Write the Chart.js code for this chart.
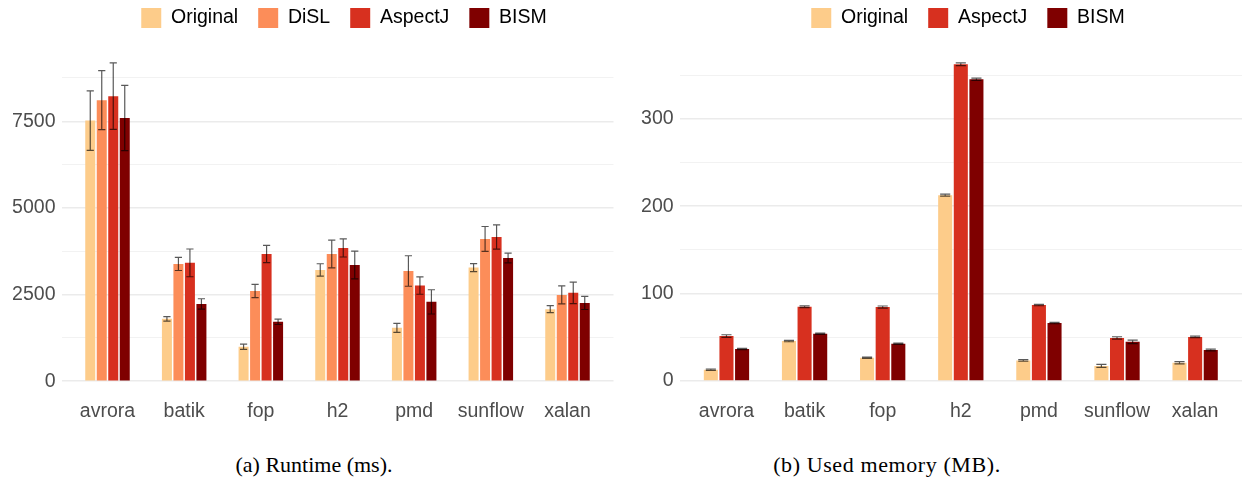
<!DOCTYPE html>
<html><head><meta charset="utf-8">
<script src="https://cdn.jsdelivr.net/npm/chart.js@4.4.0/dist/chart.umd.min.js"></script>
<style>
html,body{margin:0;padding:0;background:#fff;width:1242px;height:481px;overflow:hidden;position:relative}
canvas{position:absolute;top:0}
#c1{left:0}
#c2{left:620px}
.cap{position:absolute;font-family:'Liberation Serif','Times New Roman',serif;font-size:22px;color:#000;white-space:nowrap;transform:translateX(-50%);line-height:24px;top:453px}
</style></head><body>
<canvas id="c1" width="620" height="440"></canvas>
<canvas id="c2" width="622" height="440"></canvas>
<div class="cap" style="left:314px">(a) Runtime (ms).</div>
<div class="cap" style="left:887px;letter-spacing:0.6px">(b) Used memory (MB).</div>
<script>
// ---------- data ----------
const categories = ['avrora', 'batik', 'fop', 'h2', 'pmd', 'sunflow', 'xalan'];

// Runtime (ms)
const runtimeOriginal    = [7520, 1800,  995, 3210, 1540, 3280, 2080];
const runtimeOriginalErr = [ 860,   65,   78,  180,  130,  115,  100];
const runtimeDiSL        = [8110, 3385, 2605, 3670, 3180, 4105, 2490];
const runtimeDiSLErr     = [ 850,  190,  190,  400,  440,  360,  260];
const runtimeAspectJ     = [8225, 3415, 3670, 3845, 2760, 4160, 2550];
const runtimeAspectJErr  = [ 960,  400,  250,  260,  250,  350,  310];
const runtimeBISM        = [7595, 2230, 1715, 3355, 2290, 3555, 2260];
const runtimeBISMErr     = [ 940,  150,   78,  400,  350,  140,  190];

// Used memory (MB)
const memoryOriginal    = [12.8, 45.7, 26.6, 212.6, 23.5, 17.3, 20.8];
const memoryOriginalErr = [ 0.8,  0.8,  0.8,   1.2,  0.9,  1.8,  1.3];
const memoryAspectJ     = [51.4, 84.9, 84.6, 362.3, 86.9, 49.3, 50.4];
const memoryAspectJErr  = [ 1.5,  1.0,  1.2,   1.5,  0.8,  1.3,  0.9];
const memoryBISM        = [36.6, 54.1, 42.6, 345.1, 66.3, 44.8, 35.5];
const memoryBISMErr     = [ 0.8,  0.7,  0.7,   1.3,  0.8,  2.0,  1.0];

// Tick values
const runtimeMajorTicks = [0, 2500, 5000, 7500];
const runtimeMinorTicks = [1250, 3750, 6250, 8750];
const memoryMajorTicks  = [0, 100, 200, 300];
const memoryMinorTicks  = [50, 150, 250, 350];

// Colours
const colOriginal = '#fdcc8a';
const colDiSL     = '#fc8d59';
const colAspectJ  = '#d7301f';
const colBISM     = '#7f0000';

// ---------- plugins ----------
const errorBars = {
  id: 'errorBars',
  afterDatasetsDraw(chart, args, opts) {
    const ctx = chart.ctx;
    const yScale = chart.scales.y;
    ctx.save();
    ctx.beginPath();
    chart.data.datasets.forEach((ds, di) => {
      const meta = chart.getDatasetMeta(di);
      meta.data.forEach((bar, i) => {
        const v = ds.data[i].y, e = ds.errors[i];
        const x = bar.x;
        const hw = bar.width * opts.capRatio / 2;
        const yTop = yScale.getPixelForValue(v + e);
        const yBot = yScale.getPixelForValue(v - e);
        ctx.moveTo(x, yTop); ctx.lineTo(x, yBot);
        ctx.moveTo(x - hw, yTop); ctx.lineTo(x + hw, yTop);
        ctx.moveTo(x - hw, yBot); ctx.lineTo(x + hw, yBot);
      });
    });
    ctx.strokeStyle = 'rgba(0,0,0,0.65)';
    ctx.lineWidth = 1.2;
    ctx.stroke();
    ctx.restore();
  }
};

const legendShift = {
  id: 'legendShift',
  afterLayout(chart, args, opts) {
    const lg = chart.legend;
    if (!lg) return;
    const dx = opts.center - (lg.left + lg.right) / 2;
    lg.left += dx; lg.right += dx;
    lg.top += opts.dy; lg.bottom += opts.dy;
  }
};

const sansFont = "'Liberation Sans', Arial, Helvetica, sans-serif";

function makeChart(canvasId, datasets, cfg) {
  const allTicks = cfg.major.concat(cfg.minor).sort((a, b) => a - b);
  const isMajor = v => cfg.major.includes(v);
  return new Chart(document.getElementById(canvasId), {
    type: 'bar',
    data: {
      datasets: datasets.map(d => ({
        label: d.label,
        data: d.values.map((v, i) => ({ x: i, y: v })),
        errors: d.errors,
        backgroundColor: d.color,
        borderWidth: 0,
        categoryPercentage: 0.6,
        barPercentage: cfg.barPct
      }))
    },
    options: {
      responsive: false,
      animation: false,
      events: [],
      layout: { padding: { top: 0, left: 0, right: cfg.padRight, bottom: 0 } },
      plugins: {
        tooltip: { enabled: false },
        legend: {
          display: true,
          position: 'top',
          labels: {
            boxWidth: 20, boxHeight: 20, padding: 20,
            color: '#000',
            font: { family: sansFont, size: 19.5 }
          }
        },
        legendShift: { center: cfg.legendCenter, dy: -12 },
        errorBars: { capRatio: 0.72 }
      },
      scales: {
        x: {
          type: 'linear',
          min: -0.6, max: categories.length - 0.4,
          offset: false,
          grid: { display: false, offset: false },
          border: { display: false },
          afterBuildTicks: axis => { axis.ticks = categories.map((c, i) => ({ value: i })); },
          afterFit: s => { s.height = 43; },
          ticks: {
            autoSkip: false, maxRotation: 0, minRotation: 0, padding: -5,
            color: '#4d4d4d',
            font: { family: sansFont, size: 19.5 },
            callback: v => categories[v]
          }
        },
        y: {
          type: 'linear',
          min: cfg.yMin, max: cfg.yMax,
          border: { display: false },
          grid: {
            drawTicks: false,
            color: c => isMajor(c.tick.value) ? '#ebebeb' : '#f2f2f2',
            lineWidth: c => isMajor(c.tick.value) ? 1.5 : 1
          },
          afterBuildTicks: axis => { axis.ticks = allTicks.map(v => ({ value: v })); },
          afterFit: s => { s.width = cfg.yWidth; },
          ticks: {
            autoSkip: false, padding: 6,
            color: '#4d4d4d',
            font: { family: sansFont, size: 19.5 },
            callback: v => isMajor(v) ? String(v) : ''
          }
        }
      }
    },
    plugins: [legendShift, errorBars]
  });
}

makeChart('c1', [
  { label: 'Original', values: runtimeOriginal, errors: runtimeOriginalErr, color: colOriginal },
  { label: 'DiSL',     values: runtimeDiSL,     errors: runtimeDiSLErr,     color: colDiSL },
  { label: 'AspectJ',  values: runtimeAspectJ,  errors: runtimeAspectJErr,  color: colAspectJ },
  { label: 'BISM',     values: runtimeBISM,     errors: runtimeBISMErr,     color: colBISM }
], { major: runtimeMajorTicks, minor: runtimeMinorTicks, yMin: -455, yMax: 9557,
     yWidth: 61.5, padRight: 6.5, legendCenter: 344, barPct: 0.87 });

makeChart('c2', [
  { label: 'Original', values: memoryOriginal, errors: memoryOriginalErr, color: colOriginal },
  { label: 'AspectJ',  values: memoryAspectJ,  errors: memoryAspectJErr,  color: colAspectJ },
  { label: 'BISM',     values: memoryBISM,     errors: memoryBISMErr,     color: colBISM }
], { major: memoryMajorTicks, minor: memoryMinorTicks, yMin: -18.3, yMax: 378.6,
     yWidth: 59.6, padRight: 0, legendCenter: 968 - 620, barPct: 0.9 });
</script>
</body></html>
